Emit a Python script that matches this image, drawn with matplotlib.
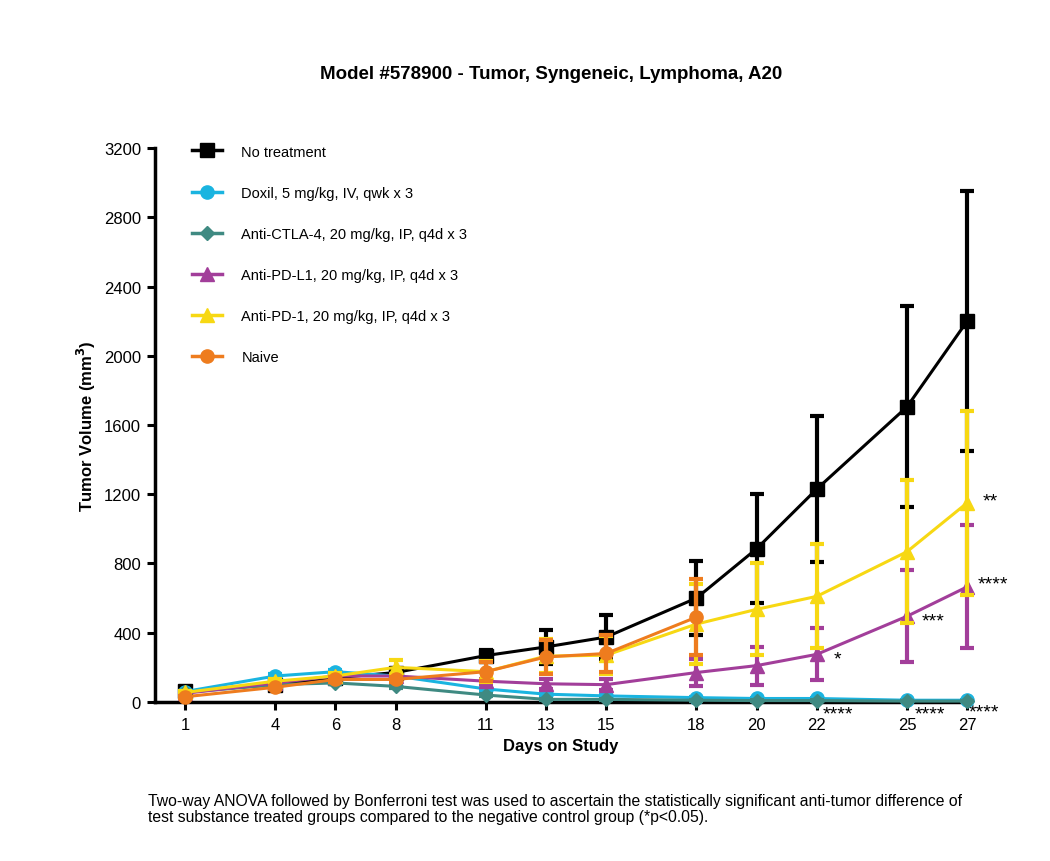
import matplotlib
matplotlib.use('Agg')
import matplotlib.pyplot as plt
from matplotlib.lines import Line2D

plt.rcParams['font.family'] = ['Liberation Sans', 'DejaVu Sans']

days = [1, 4, 6, 8, 11, 13, 15, 18, 20, 22, 25, 27]

no_treat = [62, 100, 140, 170, 268, 318, 375, 600, 885, 1230, 1705, 2200]
no_treat_err = [10, 15, 20, 20, 30, 100, 125, 215, 315, 420, 580, 750]

doxil = [60, 150, 175, 150, 75, 45, 35, 25, 20, 20, 10, 10]
doxil_err = [5, 10, 12, 10, 8, 6, 5, 4, 3, 3, 2, 2]

ctla4 = [55, 100, 110, 90, 40, 15, 15, 10, 8, 8, 5, 5]
ctla4_err = [5, 8, 8, 8, 5, 3, 3, 2, 2, 2, 1, 1]

pdl1 = [50, 110, 150, 150, 120, 105, 100, 170, 210, 275, 495, 665]
pdl1_err = [5, 10, 12, 12, 15, 30, 30, 80, 110, 150, 265, 355]

pd1 = [55, 120, 150, 200, 175, 265, 270, 450, 535, 610, 868, 1150]
pd1_err = [8, 12, 15, 45, 60, 100, 110, 230, 265, 300, 412, 530]

naive_days = [1, 4, 6, 8, 11, 13, 15, 18]
naive = [30, 85, 130, 130, 175, 260, 280, 490]
naive_err = [5, 10, 12, 12, 55, 100, 105, 220]

series = [
    ('No treatment', days, no_treat, no_treat_err, '#000000', 's', 10),
    ('Doxil, 5 mg/kg, IV, qwk x 3', days, doxil, doxil_err, '#1ab4e0', 'o', 9.5),
    ('Anti-CTLA-4, 20 mg/kg, IP, q4d x 3', days, ctla4, ctla4_err, '#3f8a82', 'D', 7),
    ('Anti-PD-L1, 20 mg/kg, IP, q4d x 3', days, pdl1, pdl1_err, '#a23e9a', '^', 10),
    ('Anti-PD-1, 20 mg/kg, IP, q4d x 3', days, pd1, pd1_err, '#f7d813', '^', 10),
    ('Naive', naive_days, naive, naive_err, '#ee7c1e', 'o', 9.5),
]

fig = plt.figure(figsize=(10.5, 8.62), dpi=100)
ax = fig.add_axes([0.1476, 0.1845, 0.7735, 0.6426])

handles = []
for i, (lab, x, y, e, c, m, ms) in enumerate(series):
    ax.errorbar(x, y, yerr=e, color=c, marker=m, markersize=ms, lw=2.2,
                elinewidth=3, capsize=5, capthick=3,
                zorder=3 + i, clip_on=False)
    handles.append(Line2D([], [], color=c, marker=m, markersize=ms, lw=2.5, label=lab))

ax.set_xlim(0, 27)
ax.set_ylim(0, 3200)
ax.set_xticks(days)
ax.set_yticks(range(0, 3201, 400))
for s in ['top', 'right']:
    ax.spines[s].set_visible(False)
for s in ['left', 'bottom']:
    ax.spines[s].set_linewidth(2.5)
ax.tick_params(width=2.2, length=6, labelsize=12)
ax.tick_params(axis='x', pad=5)
ax.tick_params(axis='y', pad=4)

ax.set_xlabel('Days on Study', fontsize=12, fontweight='bold', labelpad=4)
ax.set_ylabel(r'Tumor Volume (mm$^{\mathbf{3}}$)', fontsize=12, fontweight='bold')

fig.text(0.525, 0.913, 'Model #578900 - Tumor, Syngeneic, Lymphoma, A20',
         ha='center', va='center', fontsize=13.5, fontweight='bold')

# significance marks
ax.text(27.5, 1160, '**', fontsize=14, va='center')
ax.text(27.35, 680, '****', fontsize=14, va='center')
ax.text(25.5, 470, '***', fontsize=14, va='center')
ax.text(22.55, 250, '*', fontsize=14, va='center')
ax.text(22.2, -70, '****', fontsize=14, va='center', clip_on=False)
ax.text(25.25, -70, '****', fontsize=14, va='center', clip_on=False)
ax.text(27.05, -55, '****', fontsize=14, va='center', clip_on=False)

ax.legend(handles=handles, loc='upper left', bbox_to_anchor=(0.03, 1.03), frameon=False,
          fontsize=10.5, handlelength=2.05, labelspacing=1.86, handletextpad=1.3)

fig.text(0.141, 0.079,
         'Two-way ANOVA followed by Bonferroni test was used to ascertain the statistically significant anti-tumor difference of\n'
         'test substance treated groups compared to the negative control group (*p<0.05).',
         fontsize=11.3, ha='left', va='top', linespacing=1.05)

fig.savefig('out.png', dpi=100)
